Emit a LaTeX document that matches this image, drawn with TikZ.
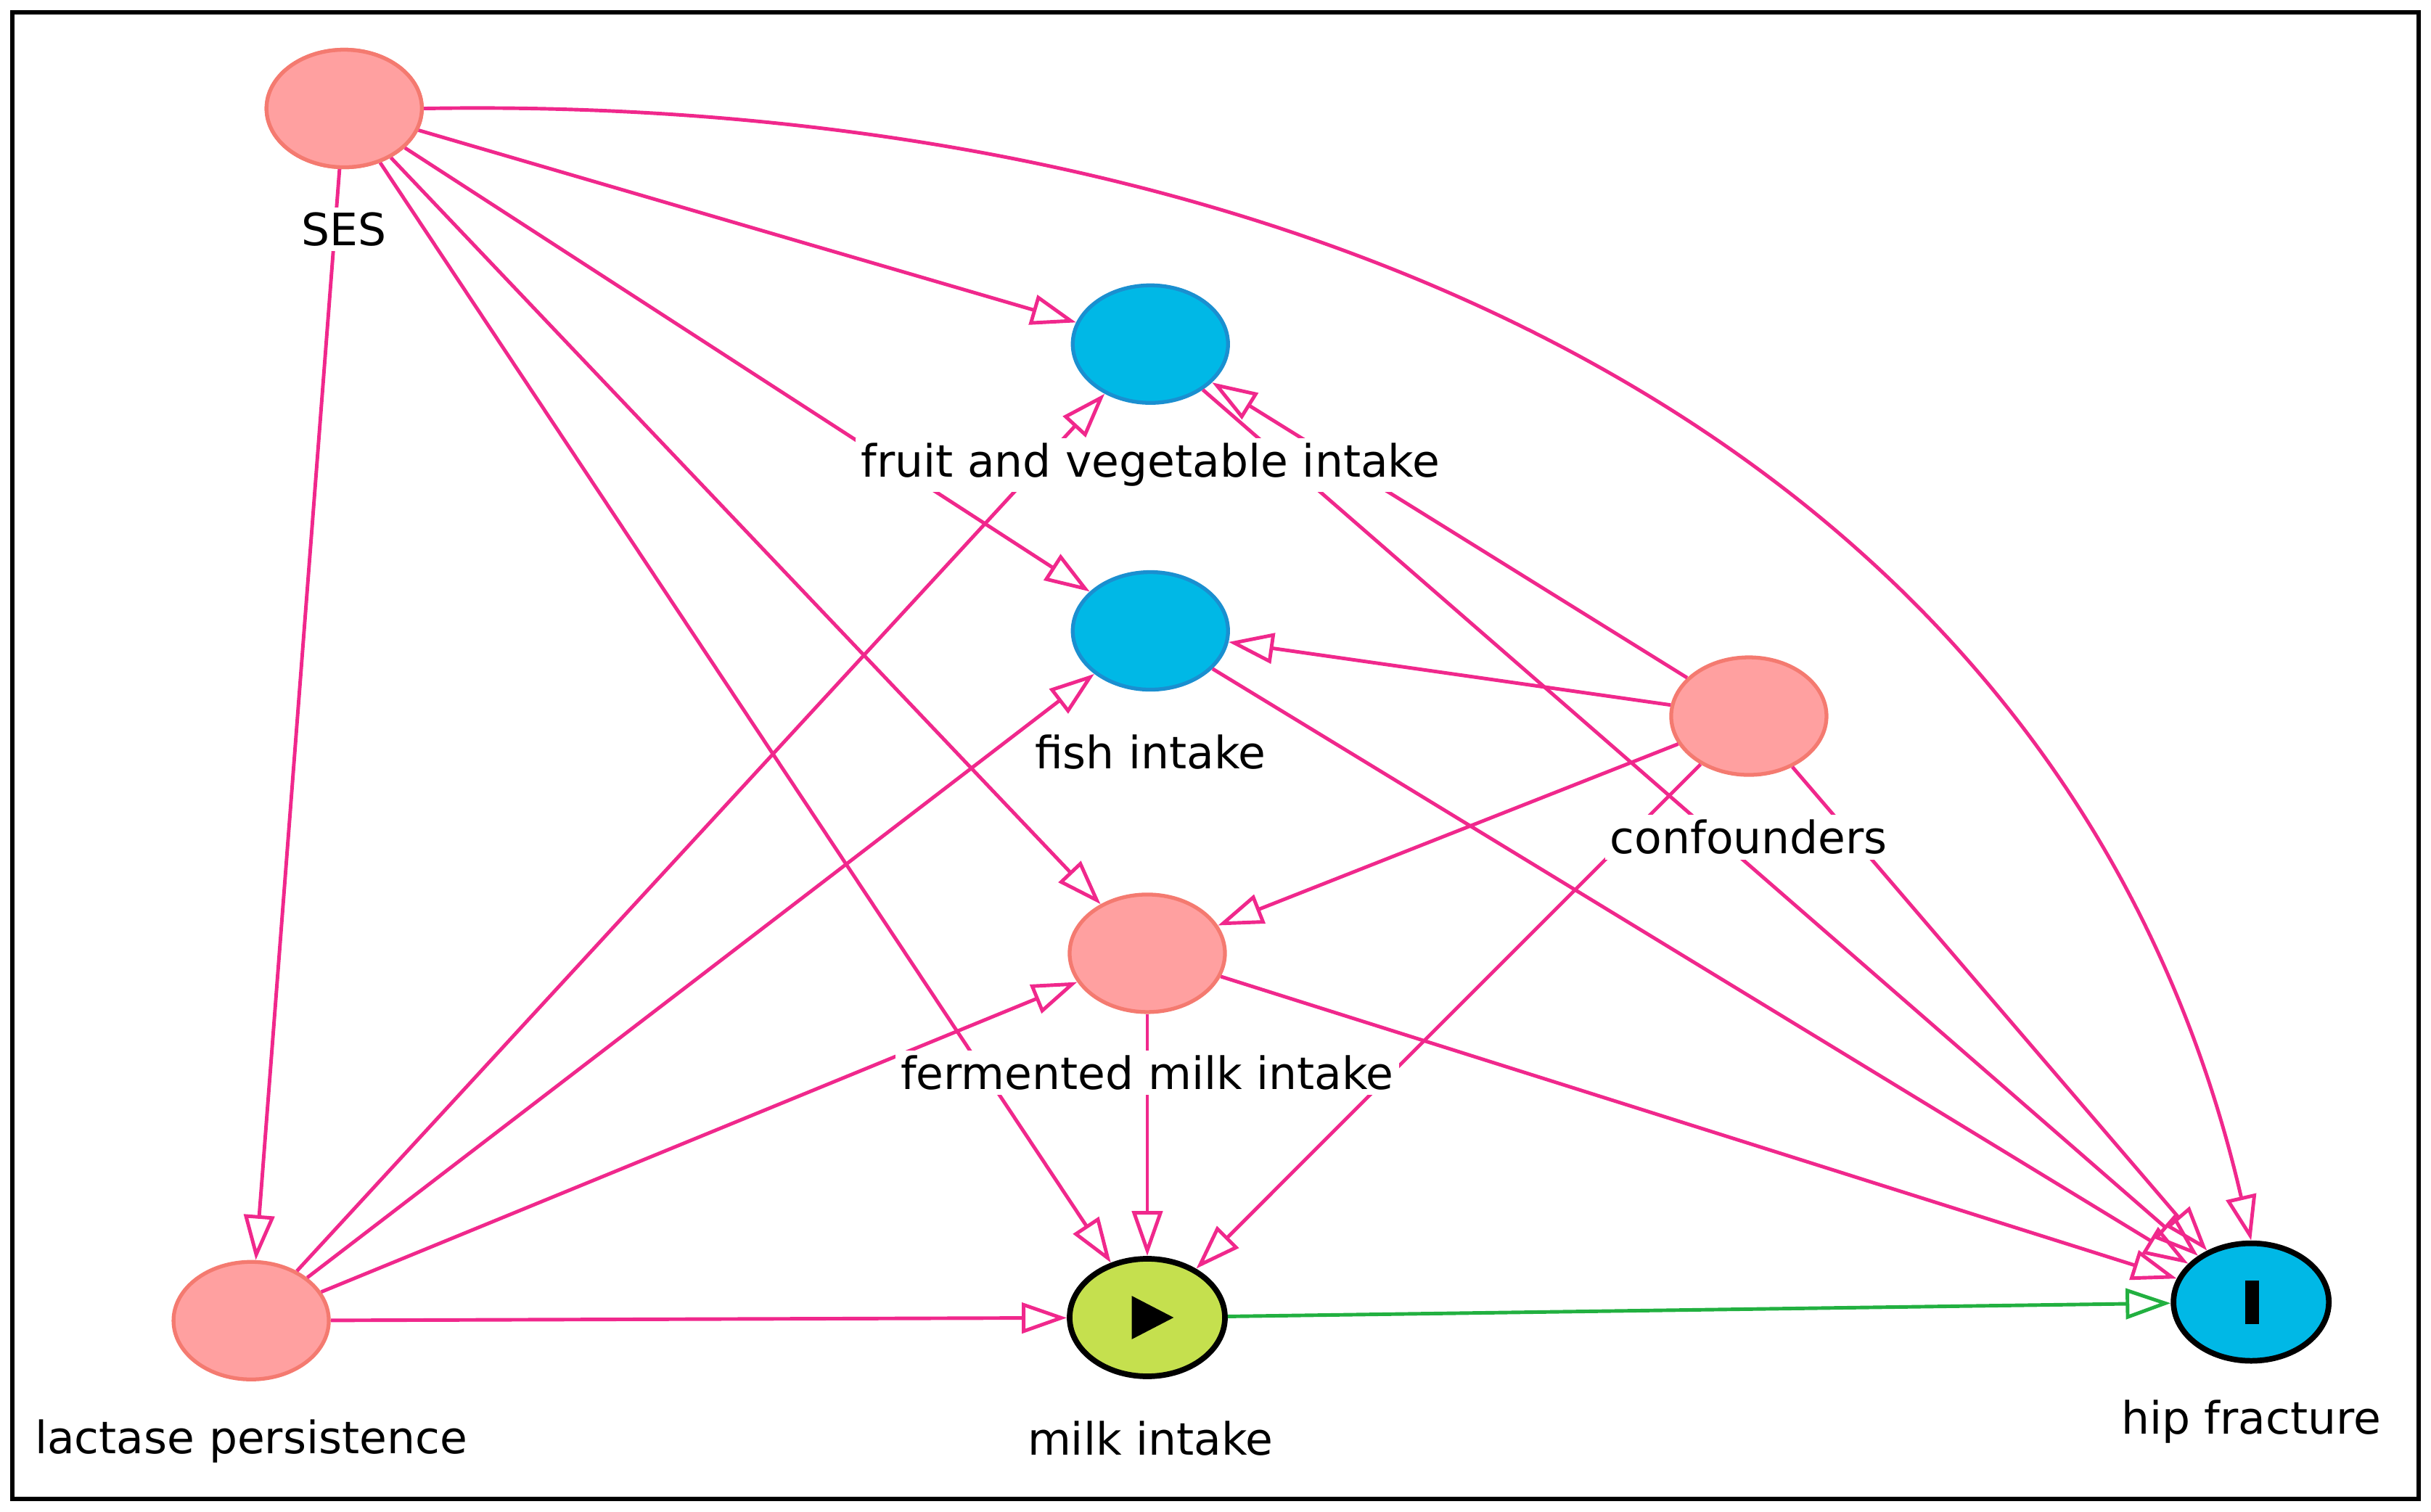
\documentclass[tikz,border=0pt]{standalone}
\usepackage{fontspec}
\setmainfont{DejaVu Sans}
\usetikzlibrary{arrows.meta,shapes.geometric}
\definecolor{pk}{HTML}{F0288C}
\definecolor{sal}{HTML}{FFA0A0}
\definecolor{salb}{HTML}{F47A70}
\definecolor{bl}{HTML}{00B8E6}
\definecolor{blb}{HTML}{1A8FD0}
\definecolor{gr}{HTML}{C5E04E}
\definecolor{ga}{HTML}{22B040}
\begin{document}
\begin{tikzpicture}[x=0.02136cm,y=-0.02136cm,
 nd/.style={ellipse,minimum width=2.14cm,minimum height=1.62cm,line width=1.5pt,inner sep=0pt},
 sn/.style={nd,fill=sal,draw=salb},
 bn/.style={nd,fill=bl,draw=blb},
 lb/.style={fill=white,inner sep=2pt,font=\fontsize{17.5}{20}\selectfont},
 e/.style={draw=pk,line width=1.4pt,-{Triangle[open,length=0.62cm,width=0.42cm]}}]
\useasboundingbox (0,0) rectangle (1568,975);
\draw[line width=1.5pt] (8,8) rectangle (1560,967);
\node[sn] (ses) at (222,70) {};
\node[bn] (fv) at (742,222) {};
\node[bn] (fish) at (742,407) {};
\node[sn] (conf) at (1128,462) {};
\node[sn] (ferm) at (740,615) {};
\node[sn] (lac) at (162,852) {};
\node[nd,fill=gr,draw=black,line width=2.2pt] (milk) at (740,850) {};
\node[nd,fill=bl,draw=black,line width=2.2pt] (hip) at (1452,840) {};
\fill (730,836) -- (757,850) -- (730,864) -- cycle;
\fill (1448,826) rectangle (1457,854);
\draw[e] (ses) -- (fv);
\draw[e] (ses) -- (fish);
\draw[e] (ses) -- (ferm);
\draw[e] (ses) -- (milk);
\draw[e] (ses) -- (lac);
\draw[e] (ses.east) to[out=1,in=103] (hip.north);
\draw[e] (lac) -- (fv);
\draw[e] (lac) -- (fish);
\draw[e] (lac) -- (ferm);
\draw[e] (lac) -- (milk);
\draw[e] (conf) -- (fv);
\draw[e] (conf) -- (fish);
\draw[e] (conf) -- (ferm);
\draw[e] (conf) -- (milk);
\draw[e] (conf) -- (hip);
\draw[e] (fv) -- (hip);
\draw[e] (fish) -- (hip);
\draw[e] (ferm) -- (milk);
\draw[e] (ferm) -- (hip);
\draw[e,draw=ga] (milk) -- (hip);
\node[sn] at (ses) {};
\node[lb] (lses) at (222,148) {SES};
\node[lb] (lfv) at (742,300) {fruit and vegetable intake};
\node[lb] (lfish) at (742,485) {fish intake};
\node[lb] (lconf) at (1128,540) {confounders};
\node[lb] (lferm) at (740,692) {fermented milk intake};
\node[lb] (llac) at (162,930) {lactase persistence};
\node[lb] (lmilk) at (742,928) {milk intake};
\node[lb] (lhip) at (1452,917) {hip fracture};
\end{tikzpicture}
\end{document}
